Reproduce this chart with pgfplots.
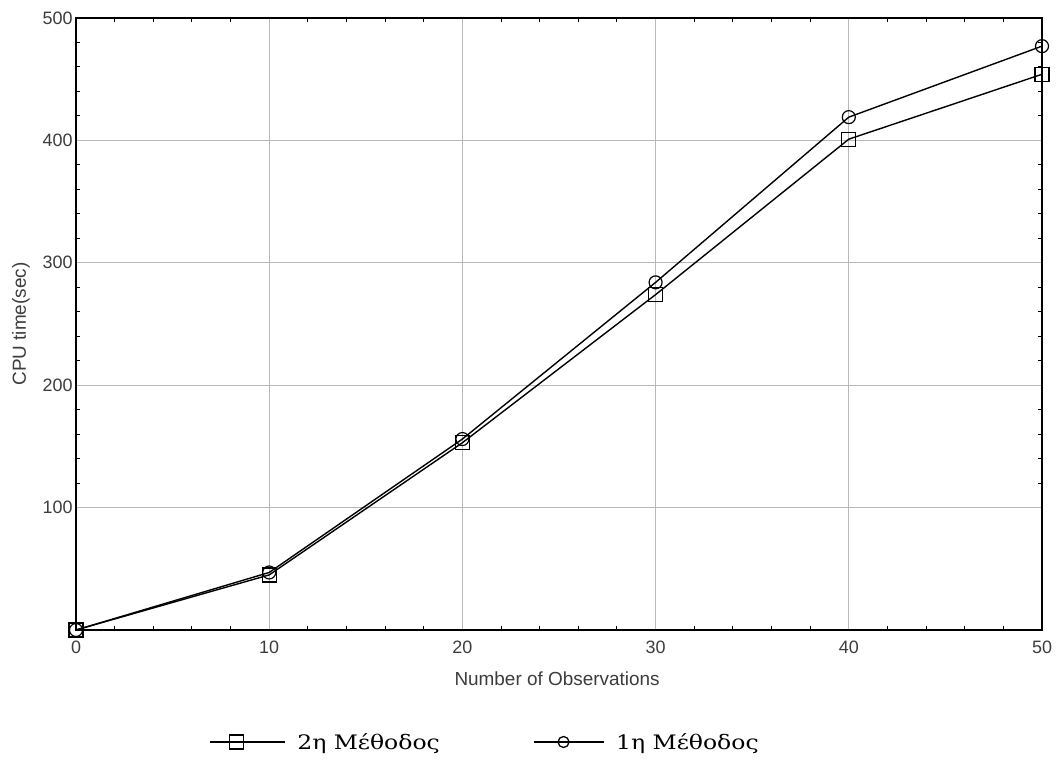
\documentclass[border=0pt]{standalone}
\usepackage{pgfplots}
\pgfplotsset{compat=1.18}
\usepackage{fontspec}
\setmainfont{Liberation Sans}
\newfontfamily\legfont[FakeStretch=1.18]{DejaVu Serif}
\definecolor{txt}{HTML}{3C3C3C}
\begin{document}
\begin{tikzpicture}[x=1bp,y=1bp]
\path[use as bounding box] (0,0) rectangle (1057,766);
\begin{axis}[
  at={(76bp,136bp)}, anchor=south west,
  scale only axis, width=966bp, height=612bp,
  xmin=0, xmax=50, ymin=0, ymax=500,
  xtick={0,10,...,50}, ytick={100,200,...,500},
  minor x tick num=4, minor y tick num=4,
  tick align=inside,
  major tick length=0pt, minor tick length=4bp,
  every minor tick/.style={line width=1bp, black},
  grid=major, major grid style={color=black!28, line width=0.8bp},
  axis line style={line width=2.5bp},
  clip mode=individual,
  /pgf/number format/assume math mode=true,
  ticklabel style={font=\fontsize{18}{20}\selectfont, text=txt},
  xticklabel style={yshift=-7bp},
  label style={font=\fontsize{19}{21}\selectfont, text=txt},
  xlabel={Number of Observations},
  ylabel={CPU time(sec)},
  xlabel style={at={(axis description cs:0.498,-0.08)}, anchor=center},
  ylabel style={at={(axis description cs:-0.057,0.50)}, anchor=center},
  legend style={at={(axis description cs:0.1377,-0.183)}, anchor=west,
    draw=none, fill=none, legend columns=2, inner sep=0pt, outer sep=0pt,
    font=\legfont\fontsize{20}{23}\selectfont,
    /tikz/every odd column/.append style={column sep=12bp},
    /tikz/every even column/.append style={column sep=93bp},
    nodes={inner xsep=0bp, inner ysep=1bp}},
]
\addplot[black, line width=1.4bp, mark=square, mark size=7bp,
  mark options={solid, fill=none, line width=1.2bp},
  legend image code/.code={\draw[black, line width=1.3bp] (0bp,0bp) -- (75bp,0bp);
     \draw[black, line width=1.3bp] (20bp,-7bp) rectangle (34bp,7bp);}]
  coordinates {(0,0) (10,45) (20,153) (30,274) (40,401) (50,454)};
\addlegendentry{2η Μέθοδος}
\addplot[black, line width=1.4bp, mark=o, mark size=6.5bp,
  mark options={solid, fill=none, line width=1.2bp},
  legend image code/.code={\draw[black, line width=1.3bp] (0bp,0bp) -- (70bp,0bp);
     \draw[black, line width=1.3bp] (30bp,0bp) circle (5.5bp);}]
  coordinates {(0,0) (10,47) (20,156) (30,284) (40,419) (50,477)};
\addlegendentry{1η Μέθοδος}
\end{axis}
\end{tikzpicture}
\end{document}
